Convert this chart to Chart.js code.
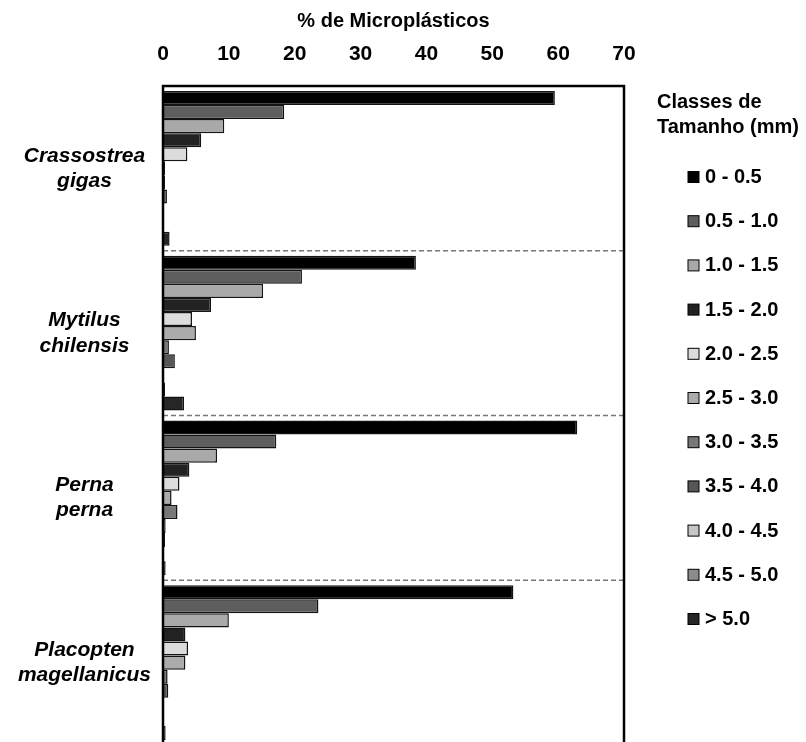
<!DOCTYPE html>
<html>
<head>
<meta charset="utf-8">
<script src="https://cdn.jsdelivr.net/npm/chart.js@4.4.1/dist/chart.umd.min.js"></script>
<style>
html,body{margin:0;padding:0;background:#fff;overflow:hidden;width:806px;height:742px}
#wrap{position:relative;width:806px;height:746px}
canvas{display:block}
</style>
</head>
<body>
<div id="wrap"><canvas id="c"></canvas></div>
<script>
// ---- data ----
const species = [['Crassostrea','gigas'],['Mytilus','chilensis'],['Perna','perna'],['Placopten','magellanicus']];
const sizeClasses = ['0 - 0.5','0.5 - 1.0','1.0 - 1.5','1.5 - 2.0','2.0 - 2.5','2.5 - 3.0','3.0 - 3.5','3.5 - 4.0','4.0 - 4.5','4.5 - 5.0','> 5.0'];
const crassostrea = [59.5, 18.4, 9.3, 5.8, 3.7, 0.3, 0.3, 0.6, 0.1, 0.1, 1.0];
const mytilus     = [38.4, 21.1, 15.2, 7.3, 4.4, 5.0, 0.9, 1.8, 0.0, 0.3, 3.2];
const perna       = [62.9, 17.2, 8.2, 4.0, 2.5, 1.3, 2.2, 0.4, 0.3, 0.0, 0.4];
const placopten   = [53.2, 23.6, 10.0, 3.4, 3.8, 3.4, 0.7, 0.8, 0.0, 0.0, 0.4];
const xTicks = [0, 10, 20, 30, 40, 50, 60, 70];
const xTitle = '% de Microplásticos';
const legendTitle = ['Classes de', 'Tamanho (mm)'];

// ---- styles ----
const classColors = ['#000000','#5e5e5e','#a9a9a9','#222222','#dcdcdc','#ababab','#777777','#565656','#c6c6c6','#8c8c8c','#262626'];
const FONT = '"Liberation Sans", Arial, sans-serif';

const bySpecies = [crassostrea, mytilus, perna, placopten];
const datasets = sizeClasses.map((lab, i) => ({
  label: lab,
  data: bySpecies.map(arr => arr[i]),
  backgroundColor: classColors[i],
  borderColor: '#141414',
  borderWidth: 1.5,
  borderSkipped: 'start',
  barPercentage: 1.0,
  categoryPercentage: 0.94
}));

const framePlugin = {
  id: 'frame',
  afterDatasetsDraw(chart) {
    const {ctx, chartArea: a, scales: {y}} = chart;
    ctx.save();
    ctx.strokeStyle = '#777777';
    ctx.lineWidth = 1.5;
    ctx.setLineDash([5, 3]);
    for (let i = 1; i < species.length; i++) {
      const yy = (y.getPixelForValue(i - 1) + y.getPixelForValue(i)) / 2;
      ctx.beginPath();
      ctx.moveTo(a.left, yy);
      ctx.lineTo(a.right, yy);
      ctx.stroke();
    }
    ctx.setLineDash([]);
    ctx.strokeStyle = '#000';
    ctx.lineWidth = 2.5;
    ctx.strokeRect(a.left, a.top, a.right - a.left, a.bottom - a.top);
    ctx.restore();
  }
};

const legendPlugin = {
  id: 'customLegend',
  afterDraw(chart) {
    const {ctx} = chart;
    ctx.save();
    ctx.fillStyle = '#000';
    ctx.textBaseline = 'middle';
    ctx.textAlign = 'left';
    ctx.font = 'bold 20px ' + FONT;
    legendTitle.forEach((t, i) => ctx.fillText(t, 657, 102 + i * 25));
    chart.data.datasets.forEach((ds, i) => {
      const yy = 177 + i * 44.2;
      ctx.fillStyle = ds.backgroundColor;
      ctx.fillRect(688, yy - 5.5, 11, 11);
      ctx.strokeStyle = '#000';
      ctx.lineWidth = 1;
      ctx.strokeRect(688, yy - 5.5, 11, 11);
      ctx.fillStyle = '#000';
      ctx.font = 'bold 20px ' + FONT;
      ctx.fillText(ds.label, 705, yy + 0.5);
    });
    ctx.restore();
  }
};

new Chart(document.getElementById('c'), {
  type: 'bar',
  data: { labels: species, datasets },
  plugins: [framePlugin, legendPlugin],
  options: {
    indexAxis: 'y',
    responsive: true,
    maintainAspectRatio: false,
    animation: false,
    devicePixelRatio: 1,
    layout: { padding: { left: 0, right: 182, top: 0, bottom: 1 } },
    plugins: { legend: { display: false }, tooltip: { enabled: false } },
    scales: {
      x: {
        position: 'top',
        min: 0, max: 70,
        afterBuildTicks(scale) { scale.ticks = xTicks.map(v => ({ value: v })); },
        afterFit(scale) { scale.height = 86; scale.paddingLeft = 0; scale.paddingRight = 0; },
        grid: { display: false, drawTicks: false },
        border: { display: false },
        ticks: { color: '#000', padding: 19, font: { family: FONT, size: 21, weight: 'bold' } },
        title: { display: true, text: xTitle, color: '#000', padding: { top: 9.5, bottom: 0 }, font: { family: FONT, size: 20, weight: 'bold' } }
      },
      y: {
        afterFit(scale) { scale.width = 163; scale.paddingTop = 0; scale.paddingBottom = 0; },
        grid: { display: false, drawTicks: false },
        border: { display: false },
        ticks: { color: '#000', padding: 12, crossAlign: 'center', font: { family: FONT, size: 21, weight: 'bold', style: 'italic' } }
      }
    }
  }
});
</script>
</body>
</html>
